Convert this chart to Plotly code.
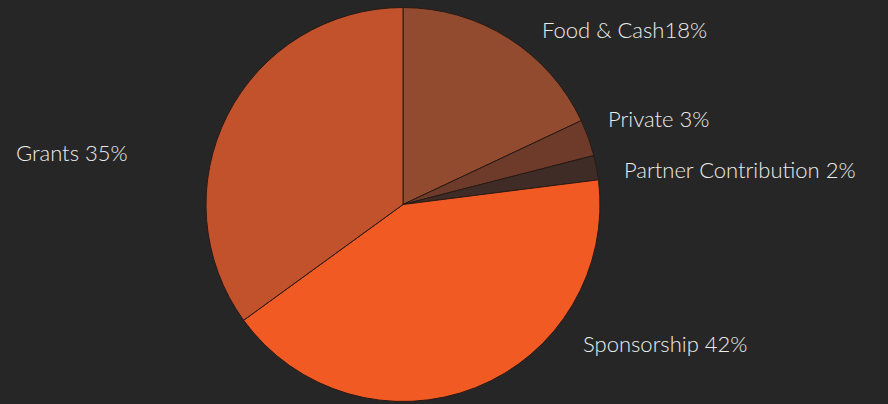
import plotly.graph_objects as go

labels = ["Food & Cash", "Private", "Partner Contribution", "Sponsorship", "Grants"]
values = [18, 3, 2, 42, 35]
display = ["Food & Cash18%", "Private 3%", "Partner Contribution 2%", "Sponsorship 42%", "Grants 35%"]
colors = ["#924B2E", "#6E3B2B", "#3F2C26", "#F25A24", "#C1522B"]

# label anchor positions (pixels from left, from top)
label_pos = [(540, 30), (606, 118), (622, 170), (581, 343), (14, 152)]

W, H = 888, 404
fig = go.Figure(go.Pie(
    labels=labels, values=values, sort=False, direction="clockwise", rotation=0,
    marker=dict(colors=colors, line=dict(color="#2a1a14", width=1)),
    textinfo="none", hoverinfo="label+percent", showlegend=False,
    domain=dict(x=[206/W, 600/W], y=[(H-401.5)/H, (H-7.5)/H]),
))

for t, (px, py) in zip(display, label_pos):
    fig.add_annotation(x=px/W, y=1-py/H, xref="paper", yref="paper", text=t,
                       showarrow=False, xanchor="left", yanchor="middle",
                       font=dict(family="Lato, Open Sans, sans-serif", size=22,
                                 weight=300, color="#ececec"))

fig.update_layout(width=W, height=H, margin=dict(l=0, r=0, t=0, b=0),
                  paper_bgcolor="#262626", plot_bgcolor="#262626")
fig.write_html("out.html", config={"displayModeBar": False},
               post_script="document.body.style.margin='0';document.body.style.overflow='hidden';document.body.style.background='#262626';")
